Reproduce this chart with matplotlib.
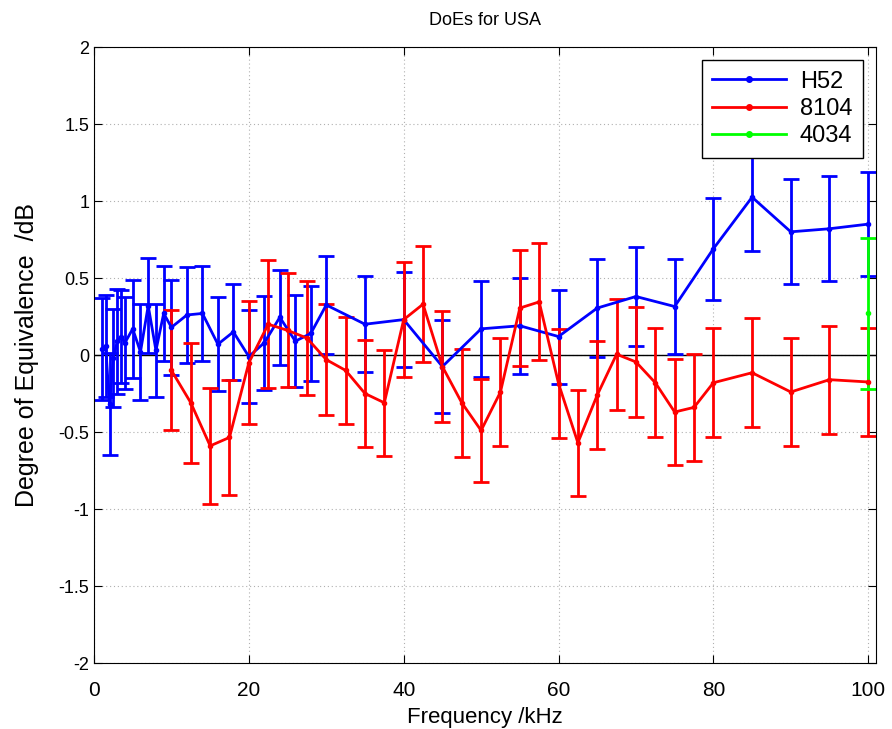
import matplotlib
matplotlib.use('Agg')
import matplotlib.pyplot as plt
from matplotlib.lines import Line2D
import numpy as np

plt.rcParams['font.family'] = ['Liberation Sans', 'DejaVu Sans']

# H52 results
f_h52 = [1, 1.5, 2, 2.5, 3, 3.5, 4, 5, 6, 7, 8, 9, 10,
         12, 14, 16, 18, 20, 22, 24, 26, 28, 30, 35, 40, 45, 50,
         55, 60, 65, 70, 75, 80, 85, 90, 95, 100]
doe_h52 = [0.04, 0.06, -0.32, -0.02, 0.09, 0.12, 0.08, 0.17, 0.02, 0.32, 0.03, 0.27, 0.18,
           0.26, 0.27, 0.07, 0.15, -0.01, 0.08, 0.245, 0.09, 0.14, 0.325, 0.20, 0.23, -0.075, 0.17,
           0.19, 0.12, 0.305, 0.38, 0.315, 0.69, 1.025, 0.80, 0.82, 0.85]
u_h52 = [0.33, 0.33, 0.33, 0.32, 0.34, 0.30, 0.30, 0.32, 0.31, 0.31, 0.30, 0.31, 0.31,
         0.31, 0.31, 0.305, 0.31, 0.30, 0.305, 0.31, 0.30, 0.31, 0.32, 0.31, 0.31, 0.30, 0.31,
         0.31, 0.305, 0.316, 0.32, 0.31, 0.33, 0.35, 0.34, 0.34, 0.34]

# 8104 results
f_8104 = [10, 12.5, 15, 17.5, 20, 22.5, 25, 27.5, 30, 32.5, 35, 37.5, 40, 42.5, 45,
          47.5, 50, 52.5, 55, 57.5, 60, 62.5, 65, 67.5, 70, 72.5, 75, 77.5, 80,
          85, 90, 95, 100]
doe_8104 = [-0.10, -0.31, -0.59, -0.535, -0.05, 0.20, 0.16, 0.11, -0.03, -0.10, -0.25, -0.31, 0.23, 0.33, -0.075,
            -0.31, -0.49, -0.24, 0.305, 0.345, -0.185, -0.57, -0.26, 0.005, -0.045, -0.18, -0.37, -0.34, -0.18,
            -0.115, -0.24, -0.16, -0.175]
u_8104 = [0.39, 0.39, 0.375, 0.375, 0.40, 0.415, 0.37, 0.37, 0.36, 0.35, 0.35, 0.345, 0.375, 0.375, 0.36,
          0.35, 0.335, 0.35, 0.375, 0.38, 0.355, 0.345, 0.35, 0.36, 0.36, 0.355, 0.345, 0.345, 0.355,
          0.355, 0.35, 0.35, 0.35]

# 4034 results
f_4034 = [100]
doe_4034 = [0.27]
u_4034 = [0.49]

fig = plt.figure(figsize=(8.92, 7.29), dpi=100)
ax = fig.add_axes([0.1054, 0.0905, 0.8766, 0.845])

series = [(f_h52, doe_h52, u_h52, (0, 0, 1), 'H52'),
          (f_8104, doe_8104, u_8104, (1, 0, 0), '8104'),
          (f_4034, doe_4034, u_4034, (0, 1, 0), '4034')]
handles = []
for f, d, u, c, name in series:
    ax.errorbar(f, d, yerr=u, color=c, lw=2, marker='.', ms=6,
                capsize=6, capthick=2, elinewidth=2)
    handles.append(Line2D([], [], color=c, lw=2, marker='.', ms=8, label=name))

ax.axhline(0, color='k', lw=1, zorder=1.5)

ax.set_xlim(0, 101)
ax.set_ylim(-2, 2)
ax.set_xticks(np.arange(0, 101, 20))
ax.set_yticks(np.arange(-2, 2.01, 0.5))
ax.set_yticklabels(['-2', '-1.5', '-1', '-0.5', '0', '0.5', '1', '1.5', '2'])
ax.grid(True, ls=(0, (1, 2.5)), color='#b0b0b0', lw=0.8)
ax.set_axisbelow(True)
ax.tick_params(direction='in', top=True, right=True, length=6)
ax.tick_params(axis='x', labelsize=15, pad=13)
ax.tick_params(axis='y', labelsize=13)

ax.set_title('DoEs for USA', fontsize=13, pad=16)
ax.set_xlabel('Frequency /kHz', fontsize=16, labelpad=5)
ax.set_ylabel('Degree of Equivalence  /dB', fontsize=18, labelpad=14)

leg = ax.legend(handles=handles, loc='upper right', fontsize=17, fancybox=False,
                framealpha=1, edgecolor='k', borderaxespad=0.55, handlelength=3.1,
                labelspacing=0.22, borderpad=0.45, handletextpad=0.6)
leg.get_frame().set_linewidth(1)

fig.savefig('out.png', dpi=100)
